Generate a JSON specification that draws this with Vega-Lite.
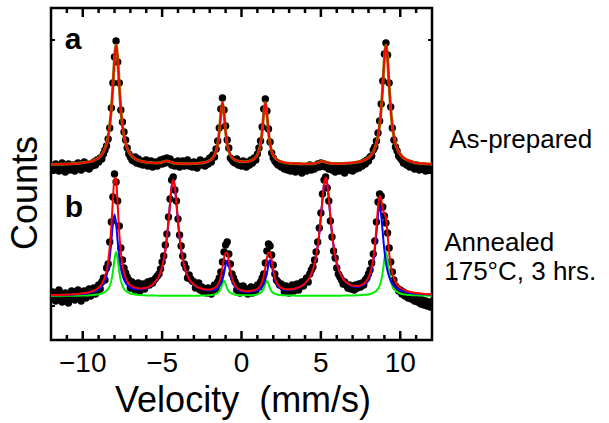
{
  "$schema": "https://vega.github.io/schema/vega-lite/v6.json",
  "width": 381,
  "height": 332,
  "autosize": "none",
  "padding": {"left": 51, "top": 8, "right": 177, "bottom": 83},
  "background": "white",
  "config": {
    "view": {"stroke": "black", "strokeWidth": 2.5},
    "font": "Liberation Sans"
  },
  "datasets": {
    "dots": [
      {"v":-12.0,"a":171,"b":41},{"v":-11.9,"a":174,"b":48},{"v":-11.8,"a":170,"b":44},{"v":-11.7,"a":176,"b":39},{"v":-11.6,"a":172,"b":46},
      {"v":-11.5,"a":169,"b":50},{"v":-11.4,"a":174,"b":42},{"v":-11.3,"a":177,"b":38},{"v":-11.2,"a":171,"b":44},{"v":-11.1,"a":168,"b":47},
      {"v":-11.0,"a":173,"b":41},{"v":-10.9,"a":176,"b":37},{"v":-10.8,"a":170,"b":43},{"v":-10.7,"a":172,"b":49},{"v":-10.6,"a":175,"b":44},
      {"v":-10.5,"a":169,"b":40},{"v":-10.4,"a":172,"b":46},{"v":-10.3,"a":177,"b":50},{"v":-10.2,"a":173,"b":43},{"v":-10.1,"a":170,"b":39},
      {"v":-10.0,"a":174,"b":45},{"v":-9.9,"a":178,"b":49},{"v":-9.8,"a":172,"b":42},{"v":-9.7,"a":175,"b":46},{"v":-9.6,"a":171,"b":51},
      {"v":-9.5,"a":176,"b":44},{"v":-9.4,"a":174,"b":47},{"v":-9.3,"a":178,"b":52},{"v":-9.2,"a":175,"b":46},{"v":-9.1,"a":180,"b":49},
      {"v":-9.0,"a":178,"b":55},{"v":-8.9,"a":182,"b":51},{"v":-8.8,"a":181,"b":58},{"v":-8.7,"a":186,"b":62},{"v":-8.6,"a":190,"b":60},
      {"v":-8.5,"a":194,"b":72},{"v":-8.4,"a":201,"b":76},{"v":-8.3,"a":212,"b":98},{"v":-8.2,"a":232,"b":118},{"v":-8.1,"a":257,"b":143},
      {"v":-8.0,"a":283,"b":166},{"v":-7.9,"a":299,"b":158},{"v":-7.8,"a":278,"b":139},{"v":-7.7,"a":257,"b":114},{"v":-7.6,"a":230,"b":92},
      {"v":-7.5,"a":218,"b":80},{"v":-7.4,"a":208,"b":72},{"v":-7.3,"a":200,"b":67},{"v":-7.2,"a":192,"b":63},{"v":-7.1,"a":186,"b":60},
      {"v":-7.0,"a":183,"b":52},{"v":-6.9,"a":180,"b":58},{"v":-6.8,"a":179,"b":56},{"v":-6.7,"a":183,"b":50},{"v":-6.6,"a":177,"b":54},
      {"v":-6.5,"a":181,"b":57},{"v":-6.4,"a":176,"b":49},{"v":-6.3,"a":179,"b":53},{"v":-6.2,"a":175,"b":56},{"v":-6.1,"a":177,"b":51},
      {"v":-6.0,"a":180,"b":55},{"v":-5.9,"a":174,"b":58},{"v":-5.8,"a":176,"b":55},{"v":-5.7,"a":179,"b":59},{"v":-5.6,"a":173,"b":57},
      {"v":-5.5,"a":176,"b":60},{"v":-5.4,"a":178,"b":62},{"v":-5.3,"a":174,"b":64},{"v":-5.2,"a":177,"b":66},{"v":-5.1,"a":180,"b":71},
      {"v":-5.0,"a":176,"b":78},{"v":-4.9,"a":181,"b":84},{"v":-4.8,"a":177,"b":95},{"v":-4.7,"a":182,"b":106},{"v":-4.6,"a":178,"b":123},
      {"v":-4.5,"a":181,"b":141},{"v":-4.4,"a":175,"b":160},{"v":-4.3,"a":178,"b":163},{"v":-4.2,"a":174,"b":150},{"v":-4.1,"a":177,"b":139},
      {"v":-4.0,"a":179,"b":121},{"v":-3.9,"a":173,"b":105},{"v":-3.8,"a":176,"b":94},{"v":-3.7,"a":179,"b":84},{"v":-3.6,"a":174,"b":76},
      {"v":-3.5,"a":177,"b":72},{"v":-3.4,"a":180,"b":62},{"v":-3.3,"a":174,"b":65},{"v":-3.2,"a":177,"b":61},{"v":-3.1,"a":173,"b":59},
      {"v":-3.0,"a":178,"b":58},{"v":-2.9,"a":175,"b":52},{"v":-2.8,"a":172,"b":56},{"v":-2.7,"a":177,"b":57},{"v":-2.6,"a":180,"b":50},
      {"v":-2.5,"a":175,"b":53},{"v":-2.4,"a":178,"b":48},{"v":-2.3,"a":174,"b":51},{"v":-2.2,"a":179,"b":47},{"v":-2.1,"a":176,"b":52},
      {"v":-2.0,"a":182,"b":49},{"v":-1.9,"a":178,"b":46},{"v":-1.8,"a":185,"b":50},{"v":-1.7,"a":183,"b":55},{"v":-1.6,"a":191,"b":51},
      {"v":-1.5,"a":199,"b":58},{"v":-1.4,"a":212,"b":62},{"v":-1.3,"a":231,"b":68},{"v":-1.2,"a":242,"b":78},{"v":-1.1,"a":230,"b":88},
      {"v":-1.0,"a":214,"b":95},{"v":-0.9,"a":200,"b":98},{"v":-0.8,"a":192,"b":86},{"v":-0.7,"a":182,"b":76},{"v":-0.6,"a":180,"b":66},
      {"v":-0.5,"a":178,"b":62},{"v":-0.4,"a":177,"b":58},{"v":-0.3,"a":181,"b":50},{"v":-0.2,"a":175,"b":54},{"v":-0.1,"a":177,"b":47},
      {"v":0.0,"a":174,"b":52},{"v":0.1,"a":179,"b":54},{"v":0.2,"a":176,"b":48},{"v":0.3,"a":173,"b":51},{"v":0.4,"a":178,"b":46},
      {"v":0.5,"a":175,"b":50},{"v":0.6,"a":180,"b":53},{"v":0.7,"a":177,"b":47},{"v":0.8,"a":182,"b":52},{"v":0.9,"a":180,"b":49},
      {"v":1.0,"a":186,"b":55},{"v":1.1,"a":192,"b":53},{"v":1.2,"a":199,"b":58},{"v":1.3,"a":213,"b":62},{"v":1.4,"a":231,"b":66},
      {"v":1.5,"a":241,"b":77},{"v":1.6,"a":229,"b":89},{"v":1.7,"a":211,"b":96},{"v":1.8,"a":198,"b":94},{"v":1.9,"a":187,"b":85},
      {"v":2.0,"a":182,"b":75},{"v":2.1,"a":179,"b":66},{"v":2.2,"a":177,"b":60},{"v":2.3,"a":175,"b":58},{"v":2.4,"a":176,"b":55},
      {"v":2.5,"a":173,"b":56},{"v":2.6,"a":174,"b":53},{"v":2.7,"a":171,"b":48},{"v":2.8,"a":173,"b":54},{"v":2.9,"a":170,"b":51},
      {"v":3.0,"a":172,"b":47},{"v":3.1,"a":169,"b":52},{"v":3.2,"a":173,"b":55},{"v":3.3,"a":171,"b":49},{"v":3.4,"a":168,"b":53},
      {"v":3.5,"a":172,"b":56},{"v":3.6,"a":174,"b":50},{"v":3.7,"a":170,"b":55},{"v":3.8,"a":167,"b":58},{"v":3.9,"a":171,"b":54},
      {"v":4.0,"a":173,"b":59},{"v":4.1,"a":169,"b":62},{"v":4.2,"a":172,"b":58},{"v":4.3,"a":175,"b":66},{"v":4.4,"a":170,"b":70},
      {"v":4.5,"a":173,"b":73},{"v":4.6,"a":171,"b":80},{"v":4.7,"a":174,"b":88},{"v":4.8,"a":176,"b":98},{"v":4.9,"a":173,"b":112},
      {"v":5.0,"a":177,"b":127},{"v":5.1,"a":174,"b":146},{"v":5.2,"a":176,"b":160},{"v":5.3,"a":173,"b":163},{"v":5.4,"a":175,"b":152},
      {"v":5.5,"a":171,"b":139},{"v":5.6,"a":173,"b":119},{"v":5.7,"a":170,"b":103},{"v":5.8,"a":172,"b":89},{"v":5.9,"a":168,"b":82},
      {"v":6.0,"a":171,"b":72},{"v":6.1,"a":173,"b":66},{"v":6.2,"a":169,"b":63},{"v":6.3,"a":172,"b":60},{"v":6.4,"a":170,"b":56},
      {"v":6.5,"a":167,"b":58},{"v":6.6,"a":171,"b":55},{"v":6.7,"a":174,"b":52},{"v":6.8,"a":170,"b":55},{"v":6.9,"a":172,"b":51},
      {"v":7.0,"a":169,"b":54},{"v":7.1,"a":173,"b":50},{"v":7.2,"a":171,"b":55},{"v":7.3,"a":175,"b":52},{"v":7.4,"a":172,"b":56},
      {"v":7.5,"a":176,"b":53},{"v":7.6,"a":174,"b":57},{"v":7.7,"a":178,"b":55},{"v":7.8,"a":176,"b":60},{"v":7.9,"a":180,"b":62},
      {"v":8.0,"a":179,"b":66},{"v":8.1,"a":183,"b":70},{"v":8.2,"a":184,"b":77},{"v":8.3,"a":190,"b":86},{"v":8.4,"a":193,"b":99},
      {"v":8.5,"a":199,"b":118},{"v":8.6,"a":207,"b":138},{"v":8.7,"a":219,"b":146},{"v":8.8,"a":236,"b":144},{"v":8.9,"a":259,"b":133},
      {"v":9.0,"a":286,"b":124},{"v":9.1,"a":297,"b":117},{"v":9.2,"a":285,"b":107},{"v":9.3,"a":257,"b":92},{"v":9.4,"a":233,"b":78},
      {"v":9.5,"a":212,"b":68},{"v":9.6,"a":200,"b":60},{"v":9.7,"a":193,"b":54},{"v":9.8,"a":189,"b":52},{"v":9.9,"a":184,"b":49},
      {"v":10.0,"a":182,"b":50},{"v":10.1,"a":180,"b":46},{"v":10.2,"a":177,"b":48},{"v":10.3,"a":178,"b":44},{"v":10.4,"a":175,"b":46},
      {"v":10.5,"a":177,"b":42},{"v":10.6,"a":173,"b":45},{"v":10.7,"a":176,"b":41},{"v":10.8,"a":174,"b":43},{"v":10.9,"a":171,"b":39},
      {"v":11.0,"a":175,"b":42},{"v":11.1,"a":172,"b":38},{"v":11.2,"a":170,"b":41},{"v":11.3,"a":174,"b":36},{"v":11.4,"a":171,"b":40},
      {"v":11.5,"a":173,"b":35},{"v":11.6,"a":169,"b":39},{"v":11.7,"a":172,"b":34},{"v":11.8,"a":170,"b":38},{"v":11.9,"a":173,"b":33},
      {"v":12.0,"a":171,"b":36}
    ],
    "fitA": [
      {"v":-12,"y":175.6},{"v":-11.5,"y":175.8},{"v":-11,"y":176.0},{"v":-10.5,"y":176.4},{"v":-10,"y":177.2},{"v":-9.5,"y":178.6},
      {"v":-9.4,"y":179.0},{"v":-9.3,"y":179.6},{"v":-9.2,"y":180.3},{"v":-9.1,"y":181.2},{"v":-9.0,"y":182.3},{"v":-8.9,"y":183.7},
      {"v":-8.8,"y":185.6},{"v":-8.7,"y":188.1},{"v":-8.6,"y":191.6},{"v":-8.5,"y":196.5},{"v":-8.4,"y":203.7},{"v":-8.3,"y":214.5},
      {"v":-8.2,"y":230.9},{"v":-8.1,"y":254.4},{"v":-8.0,"y":281.4},{"v":-7.9,"y":295.1},{"v":-7.8,"y":281.4},{"v":-7.7,"y":254.4},
      {"v":-7.6,"y":230.9},{"v":-7.5,"y":214.5},{"v":-7.4,"y":203.7},{"v":-7.3,"y":196.6},{"v":-7.2,"y":191.7},{"v":-7.1,"y":188.2},
      {"v":-7.0,"y":185.7},{"v":-6.9,"y":183.8},{"v":-6.8,"y":182.4},{"v":-6.7,"y":181.3},{"v":-6.6,"y":180.4},{"v":-6.5,"y":179.7},
      {"v":-6.4,"y":179.1},{"v":-6.3,"y":178.7},{"v":-6.2,"y":178.4},{"v":-6.0,"y":177.8},{"v":-5.8,"y":177.4},{"v":-5.6,"y":177.2},
      {"v":-5.4,"y":177.1},{"v":-5.2,"y":177.2},{"v":-5.0,"y":177.8},{"v":-4.9,"y":178.3},{"v":-4.8,"y":178.9},{"v":-4.7,"y":179.1},
      {"v":-4.6,"y":178.8},{"v":-4.5,"y":178.2},{"v":-4.4,"y":177.5},{"v":-4.2,"y":176.8},{"v":-4.0,"y":176.5},{"v":-3.8,"y":176.3},
      {"v":-3.6,"y":176.2},{"v":-3.4,"y":176.3},{"v":-3.2,"y":176.3},{"v":-3.0,"y":176.5},{"v":-2.8,"y":176.6},{"v":-2.6,"y":176.9},
      {"v":-2.4,"y":177.3},{"v":-2.2,"y":178.1},{"v":-2.1,"y":178.7},{"v":-2.0,"y":179.5},{"v":-1.9,"y":180.6},{"v":-1.8,"y":182.3},
      {"v":-1.7,"y":184.8},{"v":-1.6,"y":188.9},{"v":-1.5,"y":195.9},{"v":-1.4,"y":208.0},{"v":-1.3,"y":226.1},{"v":-1.2,"y":237.7},
      {"v":-1.1,"y":226.3},{"v":-1.0,"y":208.2},{"v":-0.9,"y":196.1},{"v":-0.8,"y":189.2},{"v":-0.7,"y":185.2},{"v":-0.6,"y":182.7},
      {"v":-0.5,"y":181.1},{"v":-0.4,"y":180.1},{"v":-0.3,"y":179.3},{"v":-0.2,"y":178.8},{"v":-0.1,"y":178.6},{"v":0.0,"y":178.4},
      {"v":0.1,"y":178.3},{"v":0.2,"y":178.3},{"v":0.3,"y":178.4},{"v":0.4,"y":178.6},{"v":0.5,"y":178.9},{"v":0.6,"y":179.4},
      {"v":0.7,"y":180.1},{"v":0.8,"y":181.1},{"v":0.9,"y":182.8},{"v":1.0,"y":185.2},{"v":1.1,"y":189.3},{"v":1.2,"y":196.2},
      {"v":1.3,"y":208.3},{"v":1.4,"y":226.3},{"v":1.5,"y":237.7},{"v":1.6,"y":226.2},{"v":1.7,"y":208.2},{"v":1.8,"y":196.1},
      {"v":1.9,"y":189.1},{"v":2.0,"y":185.0},{"v":2.1,"y":182.5},{"v":2.2,"y":180.8},{"v":2.3,"y":179.7},{"v":2.4,"y":178.9},
      {"v":2.5,"y":178.3},{"v":2.7,"y":177.4},{"v":3.0,"y":176.8},{"v":3.3,"y":176.5},{"v":3.6,"y":176.3},{"v":3.9,"y":176.2},
      {"v":4.2,"y":176.2},{"v":4.4,"y":176.3},{"v":4.6,"y":176.6},{"v":4.8,"y":177.4},{"v":4.9,"y":177.9},{"v":5.0,"y":178.5},
      {"v":5.1,"y":178.8},{"v":5.2,"y":178.5},{"v":5.3,"y":178.0},{"v":5.4,"y":177.4},{"v":5.6,"y":176.8},{"v":5.8,"y":176.5},
      {"v":6.0,"y":176.4},{"v":6.2,"y":176.5},{"v":6.4,"y":176.6},{"v":6.6,"y":176.8},{"v":6.8,"y":177.0},{"v":7.0,"y":177.3},
      {"v":7.2,"y":177.7},{"v":7.4,"y":178.3},{"v":7.5,"y":178.7},{"v":7.6,"y":179.1},{"v":7.7,"y":179.7},{"v":7.8,"y":180.4},
      {"v":7.9,"y":181.3},{"v":8.0,"y":182.4},{"v":8.1,"y":183.8},{"v":8.2,"y":185.7},{"v":8.3,"y":188.2},{"v":8.4,"y":191.7},
      {"v":8.5,"y":196.6},{"v":8.6,"y":203.8},{"v":8.7,"y":214.6},{"v":8.8,"y":231.0},{"v":8.9,"y":254.5},{"v":9.0,"y":281.5},
      {"v":9.1,"y":295.1},{"v":9.2,"y":281.4},{"v":9.3,"y":254.4},{"v":9.4,"y":230.9},{"v":9.5,"y":214.5},{"v":9.6,"y":203.7},
      {"v":9.7,"y":196.5},{"v":9.8,"y":191.6},{"v":9.9,"y":188.1},{"v":10.0,"y":185.6},{"v":10.1,"y":183.7},{"v":10.2,"y":182.3},
      {"v":10.3,"y":181.2},{"v":10.4,"y":180.3},{"v":10.5,"y":179.6},{"v":10.6,"y":179.0},{"v":10.7,"y":178.6},{"v":10.9,"y":177.3},
      {"v":11.1,"y":176.9},{"v":11.3,"y":176.6},{"v":11.5,"y":176.4},{"v":11.8,"y":176.1},{"v":12.0,"y":176.0}
    ],
    "fitB": [
      {"v":-12,"r":44.9,"bl":44.8,"g":44.1},{"v":-11,"r":45.4,"bl":45.2,"g":44.2},{"v":-10,"r":46.7,"bl":46.2,"g":44.5},
      {"v":-9.5,"r":48.3,"bl":47.5,"g":44.8},{"v":-9.3,"r":49.5,"bl":48.4,"g":45.1},{"v":-9.1,"r":51.3,"bl":49.9,"g":45.4},
      {"v":-9.0,"r":52.5,"bl":50.8,"g":45.7},{"v":-8.9,"r":54.1,"bl":52.1,"g":46.0},{"v":-8.8,"r":56.3,"bl":53.8,"g":46.5},
      {"v":-8.7,"r":59.3,"bl":56.2,"g":47.1},{"v":-8.6,"r":63.5,"bl":59.5,"g":48.0},{"v":-8.5,"r":69.5,"bl":64.3,"g":49.2},
      {"v":-8.4,"r":78.7,"bl":71.6,"g":51.1},{"v":-8.3,"r":92.8,"bl":82.6,"g":54.2},{"v":-8.2,"r":113.7,"bl":98.3,"g":59.4},
      {"v":-8.1,"r":140.5,"bl":116.4,"g":68.1},{"v":-8.0,"r":162.0,"bl":125.5,"g":80.5},{"v":-7.9,"r":160.5,"bl":116.5,"g":88.0},
      {"v":-7.8,"r":135.1,"bl":98.6,"g":80.5},{"v":-7.7,"r":107.2,"bl":83.1,"g":68.1},{"v":-7.6,"r":87.6,"bl":72.2,"g":59.4},
      {"v":-7.5,"r":75.3,"bl":65.1,"g":54.2},{"v":-7.4,"r":67.5,"bl":60.4,"g":51.1},{"v":-7.3,"r":62.5,"bl":57.3,"g":49.2},
      {"v":-7.2,"r":59.1,"bl":55.1,"g":48.0},{"v":-7.1,"r":56.7,"bl":53.6,"g":47.1},{"v":-7.0,"r":55.0,"bl":52.5,"g":46.5},
      {"v":-6.8,"r":52.9,"bl":51.2,"g":45.7},{"v":-6.6,"r":51.9,"bl":50.7,"g":45.2},{"v":-6.4,"r":51.5,"bl":50.6,"g":44.9},
      {"v":-6.2,"r":51.7,"bl":51.0,"g":44.7},{"v":-6.0,"r":52.3,"bl":51.7,"g":44.6},{"v":-5.8,"r":53.6,"bl":53.1,"g":44.5},
      {"v":-5.6,"r":55.6,"bl":55.2,"g":44.4},{"v":-5.4,"r":58.9,"bl":58.5,"g":44.4},{"v":-5.2,"r":64.2,"bl":63.9,"g":44.35},
      {"v":-5.1,"r":68.2,"bl":67.9,"g":44.35},{"v":-5.0,"r":73.4,"bl":73.1,"g":44.3},{"v":-4.9,"r":80.5,"bl":80.2,"g":44.3},
      {"v":-4.8,"r":90.0,"bl":89.7,"g":44.3},{"v":-4.7,"r":102.6,"bl":102.3,"g":44.3},{"v":-4.6,"r":118.7,"bl":118.4,"g":44.3},
      {"v":-4.5,"r":137.1,"bl":136.8,"g":44.3},{"v":-4.4,"r":153.7,"bl":153.4,"g":44.3},{"v":-4.3,"r":160.3,"bl":160.0,"g":44.3},
      {"v":-4.2,"r":153.5,"bl":153.2,"g":44.3},{"v":-4.1,"r":137.2,"bl":136.9,"g":44.3},{"v":-4.0,"r":118.8,"bl":118.5,"g":44.3},
      {"v":-3.9,"r":102.7,"bl":102.4,"g":44.3},{"v":-3.8,"r":90.2,"bl":89.9,"g":44.3},{"v":-3.7,"r":80.6,"bl":80.4,"g":44.2},
      {"v":-3.6,"r":73.5,"bl":73.3,"g":44.2},{"v":-3.5,"r":68.2,"bl":68.0,"g":44.2},{"v":-3.4,"r":64.3,"bl":64.0,"g":44.3},
      {"v":-3.3,"r":61.3,"bl":61.0,"g":44.3},{"v":-3.2,"r":58.8,"bl":58.5,"g":44.3},{"v":-3.1,"r":56.9,"bl":56.6,"g":44.3},
      {"v":-3.0,"r":55.4,"bl":55.1,"g":44.3},{"v":-2.8,"r":53.2,"bl":52.9,"g":44.3},{"v":-2.6,"r":51.8,"bl":51.4,"g":44.4},
      {"v":-2.4,"r":51.0,"bl":50.5,"g":44.45},{"v":-2.2,"r":50.5,"bl":49.9,"g":44.6},{"v":-2.0,"r":50.6,"bl":49.8,"g":44.8},
      {"v":-1.9,"r":50.8,"bl":49.8,"g":45.0},{"v":-1.8,"r":51.3,"bl":50.1,"g":45.2},{"v":-1.7,"r":52.0,"bl":50.4,"g":45.6},
      {"v":-1.6,"r":53.3,"bl":51.0,"g":46.25},{"v":-1.5,"r":55.3,"bl":52.1,"g":47.2},{"v":-1.4,"r":58.5,"bl":53.7,"g":48.8},
      {"v":-1.3,"r":63.9,"bl":56.2,"g":51.7},{"v":-1.2,"r":72.5,"bl":60.3,"g":56.2},{"v":-1.1,"r":82.0,"bl":66.8,"g":59.2},
      {"v":-1.0,"r":87.3,"bl":75.1,"g":56.2},{"v":-0.9,"r":87.3,"bl":79.6,"g":51.7},{"v":-0.8,"r":79.7,"bl":74.9,"g":48.8},
      {"v":-0.7,"r":69.8,"bl":66.6,"g":47.2},{"v":-0.6,"r":62.2,"bl":59.9,"g":46.3},{"v":-0.5,"r":57.5,"bl":55.8,"g":45.7},
      {"v":-0.4,"r":54.4,"bl":53.1,"g":45.35},{"v":-0.3,"r":52.4,"bl":51.3,"g":45.1},{"v":-0.2,"r":51.2,"bl":50.2,"g":45.0},
      {"v":-0.1,"r":50.3,"bl":49.4,"g":44.9},{"v":0.0,"r":49.8,"bl":49.0,"g":44.8},{"v":0.1,"r":49.2,"bl":48.5,"g":44.7},
      {"v":0.2,"r":49.0,"bl":48.3,"g":44.7},{"v":0.3,"r":48.9,"bl":48.2,"g":44.7},{"v":0.4,"r":48.95,"bl":48.2,"g":44.75},
      {"v":0.5,"r":49.0,"bl":48.2,"g":44.8},{"v":0.6,"r":49.15,"bl":48.3,"g":44.85},{"v":0.7,"r":49.35,"bl":48.4,"g":44.95},
      {"v":0.8,"r":49.8,"bl":48.7,"g":45.1},{"v":0.9,"r":50.4,"bl":49.1,"g":45.3},{"v":1.0,"r":51.3,"bl":49.6,"g":45.7},
      {"v":1.1,"r":52.7,"bl":50.4,"g":46.3},{"v":1.2,"r":54.8,"bl":51.6,"g":47.2},{"v":1.3,"r":58.1,"bl":53.3,"g":48.8},
      {"v":1.4,"r":63.7,"bl":56.0,"g":51.7},{"v":1.5,"r":72.35,"bl":60.2,"g":56.15},{"v":1.6,"r":82.05,"bl":66.9,"g":59.15},
      {"v":1.7,"r":87.35,"bl":75.2,"g":56.15},{"v":1.8,"r":87.5,"bl":79.9,"g":51.6},{"v":1.9,"r":80.0,"bl":75.3,"g":48.7},
      {"v":2.0,"r":70.2,"bl":67.1,"g":47.1},{"v":2.1,"r":62.8,"bl":60.6,"g":46.2},{"v":2.2,"r":58.15,"bl":56.5,"g":45.65},
      {"v":2.3,"r":55.15,"bl":53.9,"g":45.25},{"v":2.4,"r":53.4,"bl":52.4,"g":45.0},{"v":2.5,"r":52.15,"bl":51.3,"g":44.85},
      {"v":2.6,"r":51.4,"bl":50.7,"g":44.7},{"v":2.8,"r":50.8,"bl":50.2,"g":44.6},{"v":3.0,"r":50.7,"bl":50.2,"g":44.5},
      {"v":3.2,"r":50.95,"bl":50.5,"g":44.45},{"v":3.4,"r":51.55,"bl":51.2,"g":44.35},{"v":3.6,"r":52.6,"bl":52.3,"g":44.3},
      {"v":3.8,"r":54.2,"bl":53.9,"g":44.3},{"v":4.0,"r":56.65,"bl":56.4,"g":44.25},{"v":4.2,"r":60.45,"bl":60.2,"g":44.25},
      {"v":4.3,"r":62.95,"bl":62.7,"g":44.25},{"v":4.4,"r":66.35,"bl":66.1,"g":44.25},{"v":4.5,"r":70.75,"bl":70.5,"g":44.25},
      {"v":4.6,"r":76.45,"bl":76.2,"g":44.25},{"v":4.7,"r":83.95,"bl":83.7,"g":44.25},{"v":4.8,"r":93.85,"bl":93.6,"g":44.25},
      {"v":4.9,"r":106.75,"bl":106.5,"g":44.25},{"v":5.0,"r":123.15,"bl":122.9,"g":44.25},{"v":5.1,"r":140.85,"bl":140.6,"g":44.25},
      {"v":5.2,"r":156.15,"bl":155.9,"g":44.25},{"v":5.3,"r":162.55,"bl":162.3,"g":44.25},{"v":5.4,"r":156.25,"bl":156.0,"g":44.25},
      {"v":5.5,"r":141.05,"bl":140.8,"g":44.25},{"v":5.6,"r":123.2,"bl":122.9,"g":44.3},{"v":5.7,"r":107.0,"bl":106.7,"g":44.3},
      {"v":5.8,"r":94.2,"bl":93.9,"g":44.3},{"v":5.9,"r":84.3,"bl":84.0,"g":44.3},{"v":6.0,"r":76.9,"bl":76.6,"g":44.3},
      {"v":6.1,"r":71.3,"bl":71.0,"g":44.3},{"v":6.2,"r":66.95,"bl":66.6,"g":44.35},{"v":6.3,"r":63.65,"bl":63.3,"g":44.35},
      {"v":6.4,"r":61.2,"bl":60.8,"g":44.4},{"v":6.5,"r":59.3,"bl":58.9,"g":44.4},{"v":6.6,"r":57.75,"bl":57.3,"g":44.45},
      {"v":6.7,"r":56.5,"bl":56.0,"g":44.5},{"v":6.8,"r":55.6,"bl":55.1,"g":44.5},{"v":6.9,"r":54.85,"bl":54.3,"g":44.55},
      {"v":7.0,"r":54.35,"bl":53.8,"g":44.55},{"v":7.2,"r":53.95,"bl":53.3,"g":44.65},{"v":7.4,"r":54.1,"bl":53.3,"g":44.8},
      {"v":7.6,"r":55.3,"bl":54.3,"g":45.0},{"v":7.7,"r":56.35,"bl":55.2,"g":45.15},{"v":7.8,"r":57.7,"bl":56.4,"g":45.3},
      {"v":7.9,"r":59.8,"bl":58.3,"g":45.5},{"v":8.0,"r":62.6,"bl":60.85,"g":45.75},{"v":8.1,"r":66.65,"bl":64.6,"g":46.05},
      {"v":8.2,"r":72.65,"bl":70.1,"g":46.55},{"v":8.3,"r":81.45,"bl":78.3,"g":47.15},{"v":8.4,"r":94.55,"bl":90.5,"g":48.05},
      {"v":8.5,"r":112.45,"bl":107.2,"g":49.25},{"v":8.6,"r":132.55,"bl":125.4,"g":51.15},{"v":8.7,"r":144.35,"bl":134.1,"g":54.25},
      {"v":8.8,"r":140.65,"bl":125.2,"g":59.45},{"v":8.9,"r":130.95,"bl":106.8,"g":68.15},{"v":9.0,"r":126.35,"bl":89.8,"g":80.55},
      {"v":9.1,"r":121.55,"bl":77.5,"g":88.05},{"v":9.2,"r":105.55,"bl":69.0,"g":80.55},{"v":9.3,"r":87.35,"bl":63.2,"g":68.15},
      {"v":9.4,"r":74.7,"bl":59.25,"g":59.45},{"v":9.5,"r":66.65,"bl":56.4,"g":54.25},{"v":9.6,"r":61.35,"bl":54.2,"g":51.15},
      {"v":9.7,"r":57.95,"bl":52.7,"g":49.25},{"v":9.8,"r":55.45,"bl":51.4,"g":48.05},{"v":9.9,"r":53.65,"bl":50.5,"g":47.15},
      {"v":10.0,"r":52.15,"bl":49.6,"g":46.55},{"v":10.2,"r":50.35,"bl":48.6,"g":45.75},{"v":10.4,"r":49.05,"bl":47.75,"g":45.3},
      {"v":10.6,"r":48.2,"bl":47.2,"g":45.0},{"v":10.8,"r":47.5,"bl":46.7,"g":44.8},{"v":11.0,"r":47.05,"bl":46.4,"g":44.65},
      {"v":11.3,"r":46.5,"bl":46.0,"g":44.5},{"v":11.6,"r":46.1,"bl":45.7,"g":44.4},{"v":12.0,"r":45.75,"bl":45.45,"g":44.3}
    ],
    "majorTicks": [{"v":-10},{"v":-5},{"v":0},{"v":5},{"v":10}],
    "minorTicks": [{"v":-11},{"v":-9},{"v":-8},{"v":-7},{"v":-6},{"v":-4},{"v":-3},{"v":-2},{"v":-1},{"v":1},{"v":2},{"v":3},{"v":4},{"v":6},{"v":7},{"v":8},{"v":9},{"v":11}],
    "yTicks": [{"y":34},{"y":167},{"y":300}],
    "tickLabels": [
      {"v":-10,"y":-32,"t":"−10"},{"v":-5,"y":-32,"t":"−5"},{"v":0,"y":-32,"t":"0"},{"v":5,"y":-32,"t":"5"},{"v":10,"y":-32,"t":"10"}
    ],
    "xTitle": [{"v":0.1,"y":-72,"t":"Velocity \u00a0(mm/s)"}],
    "yTitle": [{"v":-12.9,"y":147,"t":"Counts"}],
    "panelLabels": [
      {"v":-11.13,"y":291,"t":"a"},
      {"v":-11.13,"y":123,"t":"b"}
    ],
    "sideLabels": [
      {"v":13.08,"y":200,"t":"As-prepared"},
      {"v":12.77,"y":97,"t":"Annealed"},
      {"v":12.77,"y":68,"t":"175°C, 3 hrs."}
    ]
  },
  "encoding": {
    "x": {"type": "quantitative", "scale": {"domain": [-12, 12], "nice": false, "zero": false}},
    "y": {"type": "quantitative", "scale": {"domain": [0, 332], "nice": false, "zero": false}}
  },
  "layer": [
    {
      "data": {"name": "dots"},
      "mark": {"type": "point", "filled": true, "color": "black", "size": 55, "opacity": 1, "clip": true},
      "encoding": {
        "x": {"field": "v", "type": "quantitative", "axis": null},
        "y": {"field": "a", "type": "quantitative", "axis": null}
      }
    },
    {
      "data": {"name": "dots"},
      "mark": {"type": "point", "filled": true, "color": "black", "size": 55, "opacity": 1, "clip": true},
      "encoding": {
        "x": {"field": "v", "type": "quantitative", "axis": null},
        "y": {"field": "b", "type": "quantitative", "axis": null}
      }
    },
    {
      "data": {"name": "majorTicks"},
      "mark": {"type": "rule", "color": "black", "strokeWidth": 2.5},
      "encoding": {
        "x": {"field": "v", "type": "quantitative", "axis": null},
        "y": {"datum": 0, "type": "quantitative", "axis": null},
        "y2": {"datum": 9}
      }
    },
    {
      "data": {"name": "majorTicks"},
      "mark": {"type": "rule", "color": "black", "strokeWidth": 2.5},
      "encoding": {
        "x": {"field": "v", "type": "quantitative", "axis": null},
        "y": {"datum": 332, "type": "quantitative", "axis": null},
        "y2": {"datum": 323}
      }
    },
    {
      "data": {"name": "minorTicks"},
      "mark": {"type": "rule", "color": "black", "strokeWidth": 2.5},
      "encoding": {
        "x": {"field": "v", "type": "quantitative", "axis": null},
        "y": {"datum": 0, "type": "quantitative", "axis": null},
        "y2": {"datum": 5}
      }
    },
    {
      "data": {"name": "minorTicks"},
      "mark": {"type": "rule", "color": "black", "strokeWidth": 2.5},
      "encoding": {
        "x": {"field": "v", "type": "quantitative", "axis": null},
        "y": {"datum": 332, "type": "quantitative", "axis": null},
        "y2": {"datum": 327}
      }
    },
    {
      "data": {"name": "yTicks"},
      "mark": {"type": "rule", "color": "black", "strokeWidth": 2},
      "encoding": {
        "y": {"field": "y", "type": "quantitative", "axis": null},
        "x": {"datum": -12, "type": "quantitative", "axis": null},
        "x2": {"datum": -11.75}
      }
    },
    {
      "data": {"name": "yTicks"},
      "mark": {"type": "rule", "color": "black", "strokeWidth": 2},
      "encoding": {
        "y": {"field": "y", "type": "quantitative", "axis": null},
        "x": {"datum": 12, "type": "quantitative", "axis": null},
        "x2": {"datum": 11.75}
      }
    },
    {
      "data": {"name": "fitA"},
      "mark": {"type": "line", "color": "#8a7a00", "strokeWidth": 3, "interpolate": "monotone", "clip": true},
      "encoding": {
        "x": {"field": "v", "type": "quantitative", "axis": null},
        "y": {"field": "y", "type": "quantitative", "axis": null}
      }
    },
    {
      "data": {"name": "fitA"},
      "mark": {"type": "line", "color": "#ff0000", "strokeWidth": 1.8, "interpolate": "monotone", "clip": true},
      "encoding": {
        "x": {"field": "v", "type": "quantitative", "axis": null},
        "y": {"field": "y", "type": "quantitative", "axis": null}
      }
    },
    {
      "data": {"name": "fitB"},
      "mark": {"type": "line", "color": "#00ee00", "strokeWidth": 2, "interpolate": "monotone", "clip": true},
      "encoding": {
        "x": {"field": "v", "type": "quantitative", "axis": null},
        "y": {"field": "g", "type": "quantitative", "axis": null}
      }
    },
    {
      "data": {"name": "fitB"},
      "mark": {"type": "line", "color": "#0000ff", "strokeWidth": 2, "interpolate": "monotone", "clip": true},
      "encoding": {
        "x": {"field": "v", "type": "quantitative", "axis": null},
        "y": {"field": "bl", "type": "quantitative", "axis": null}
      }
    },
    {
      "data": {"name": "fitB"},
      "mark": {"type": "line", "color": "#ff0000", "strokeWidth": 2, "interpolate": "monotone", "clip": true},
      "encoding": {
        "x": {"field": "v", "type": "quantitative", "axis": null},
        "y": {"field": "r", "type": "quantitative", "axis": null}
      }
    },
    {
      "data": {"name": "tickLabels"},
      "mark": {"type": "text", "font": "Liberation Sans", "fontSize": 28, "align": "center", "baseline": "alphabetic", "color": "black"},
      "encoding": {
        "x": {"field": "v", "type": "quantitative", "axis": null},
        "y": {"field": "y", "type": "quantitative", "axis": null},
        "text": {"field": "t"}
      }
    },
    {
      "data": {"name": "xTitle"},
      "mark": {"type": "text", "font": "Liberation Sans", "fontSize": 36, "align": "center", "baseline": "alphabetic", "color": "black"},
      "encoding": {
        "x": {"field": "v", "type": "quantitative", "axis": null},
        "y": {"field": "y", "type": "quantitative", "axis": null},
        "text": {"field": "t"}
      }
    },
    {
      "data": {"name": "yTitle"},
      "mark": {"type": "text", "font": "Liberation Sans", "fontSize": 36, "align": "center", "baseline": "alphabetic", "angle": 270, "color": "black"},
      "encoding": {
        "x": {"field": "v", "type": "quantitative", "axis": null},
        "y": {"field": "y", "type": "quantitative", "axis": null},
        "text": {"field": "t"}
      }
    },
    {
      "data": {"name": "panelLabels"},
      "mark": {"type": "text", "font": "Liberation Sans", "fontSize": 30, "fontWeight": "bold", "align": "left", "baseline": "alphabetic", "color": "black"},
      "encoding": {
        "x": {"field": "v", "type": "quantitative", "axis": null},
        "y": {"field": "y", "type": "quantitative", "axis": null},
        "text": {"field": "t"}
      }
    },
    {
      "data": {"name": "sideLabels"},
      "mark": {"type": "text", "font": "Liberation Sans", "fontSize": 26, "align": "left", "baseline": "middle", "color": "black"},
      "encoding": {
        "x": {"field": "v", "type": "quantitative", "axis": null},
        "y": {"field": "y", "type": "quantitative", "axis": null},
        "text": {"field": "t"}
      }
    }
  ]
}
